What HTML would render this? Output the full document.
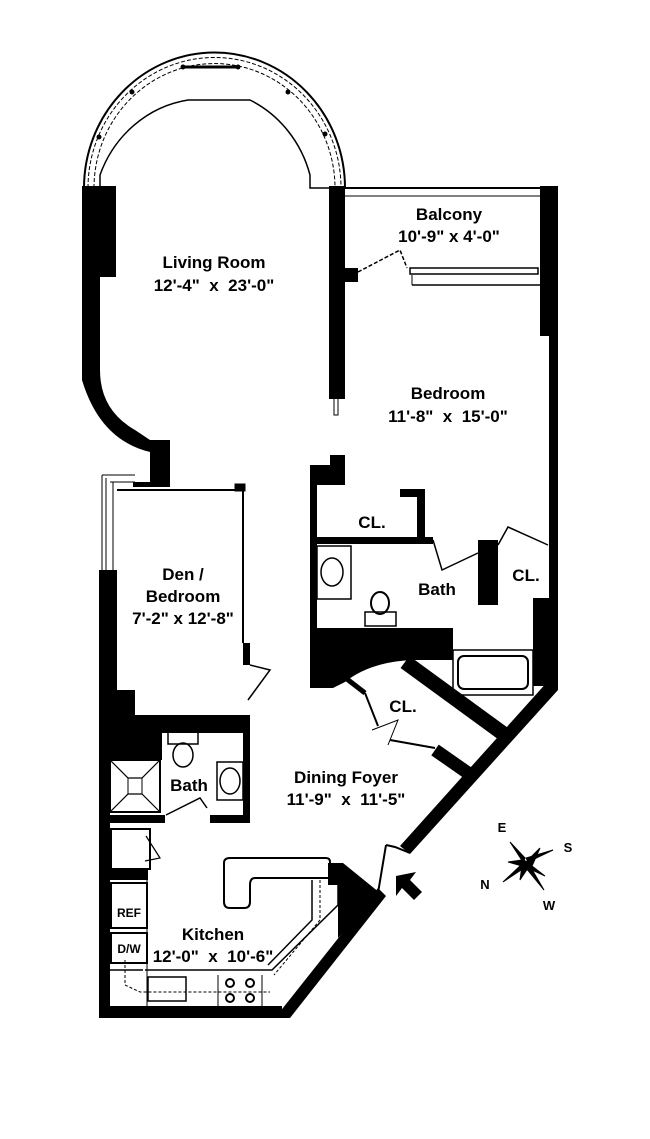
<!DOCTYPE html>
<html><head><style>
html,body{margin:0;padding:0;background:#fff;}
svg{display:block;}
text{font-family:"Liberation Sans",Arial,sans-serif;font-weight:bold;fill:#000;text-anchor:middle;white-space:pre;}
</style></head><body>
<svg width="650" height="1139" viewBox="0 0 650 1139" xmlns="http://www.w3.org/2000/svg">
<g fill="none" stroke="#000">
<path d="M84,188 A130,135 0 0 1 345,188" stroke-width="2"/>
<path d="M88,188 A126,130 0 0 1 341,188" stroke-width="1" stroke-dasharray="4,2"/>
<path d="M94,188 A120,124 0 0 1 335,188" stroke-width="1" stroke-dasharray="4,2"/>
<path d="M100,188 L100,175 A112,118 0 0 1 188,100 L250,100 A112,118 0 0 1 310,175 L310,188 L330,188" stroke-width="1.5"/>
<line x1="182" y1="67" x2="238" y2="67" stroke-width="3"/>
</g>
<g fill="#000">
<circle cx="183" cy="67" r="2.5"/><circle cx="238" cy="67" r="2.5"/>
<circle cx="132" cy="92" r="2.5"/><circle cx="288" cy="92" r="2.5"/>
<circle cx="99" cy="137" r="2.5"/><circle cx="325" cy="134" r="2.5"/>
</g>
<g fill="#000">
<rect x="82" y="186" width="34" height="91"/>
<path d="M82,277 L100,277 L100,370 Q100,410 135,430 L150,440 L170,440 L170,487 L133,487 L133,482 L150,482 L150,452 Q100,440 82,380 Z"/>
<rect x="329" y="186" width="16" height="213"/>
<rect x="345" y="268" width="13" height="14"/>
<rect x="540" y="186" width="18" height="150"/>
<rect x="549" y="186" width="9" height="500"/>
<rect x="533" y="598" width="20" height="88"/>
<polygon points="549,680 558,680 558,690 410,854 400,846"/>
<polygon points="378,888 386,896 290,1018 275,1018"/>
<polygon points="328,863 343,863 380,893 338,938 338,885 328,885"/>
<rect x="99" y="1006" width="183" height="12"/>
<rect x="99" y="570" width="18" height="163"/>
<rect x="99" y="733" width="11" height="285"/>
<rect x="99" y="690" width="36" height="43"/>
<rect x="99" y="715" width="151" height="18"/>
<rect x="243" y="643" width="7" height="22"/>
<rect x="243" y="715" width="7" height="105"/>
<rect x="110" y="733" width="52" height="27"/>
<rect x="99" y="815" width="66" height="8"/>
<rect x="210" y="815" width="40" height="8"/>
<rect x="110" y="870" width="38" height="10"/>
<rect x="330" y="455" width="15" height="15"/>
<rect x="310" y="465" width="35" height="20"/>
<rect x="310" y="465" width="7" height="223"/>
<rect x="400" y="489" width="25" height="8"/>
<rect x="417" y="489" width="8" height="51"/>
<rect x="310" y="537" width="123" height="7"/>
<rect x="478" y="540" width="20" height="65"/>
<path d="M310,628 L453,628 L453,660 L412,660 Q370,662 345,682 L333,688 L310,688 Z"/>
<rect x="320" y="628" width="13" height="60"/>
</g>
<g stroke="#000" fill="none">
<line x1="405" y1="662" x2="505" y2="735" stroke-width="15"/>
<line x1="435" y1="750" x2="468" y2="773" stroke-width="13"/>
<line x1="453" y1="695" x2="500" y2="733" stroke-width="2"/>
<line x1="343" y1="676" x2="365" y2="693" stroke-width="5"/>
<line x1="365" y1="693" x2="378" y2="726" stroke-width="2"/>
<line x1="390" y1="740" x2="435" y2="748" stroke-width="2"/>
<path d="M372,730 L398,720 L388,745" stroke-width="1"/>
<line x1="345" y1="188" x2="540" y2="188" stroke-width="2"/>
<line x1="345" y1="196" x2="540" y2="196" stroke-width="1"/>
<rect x="410" y="268" width="128" height="6" stroke-width="1.5"/>
<line x1="412" y1="275" x2="412" y2="285" stroke-width="1"/>
<line x1="412" y1="285" x2="540" y2="285" stroke-width="1.5"/>
<path d="M358,272 L400,250 L407,268" stroke-width="1.5" stroke-dasharray="4,2"/>
<rect x="334" y="355" width="4" height="60" stroke-width="1"/>
<path d="M102,475 L102,570 M106,478 L106,570 M102,475 L135,475 M110,482 L135,482 M113,482 L113,570" stroke-width="1"/>
<line x1="117" y1="490" x2="240" y2="490" stroke-width="2"/>
<line x1="243" y1="490" x2="243" y2="643" stroke-width="2"/>
<rect x="235" y="484" width="10" height="7" fill="#000"/>
<path d="M250,665 L270,670 L248,700" stroke-width="1.5"/>
<rect x="110" y="760" width="50" height="52" stroke-width="2"/>
<path d="M110,760 L128,778 L142,778 L160,760 M110,812 L128,794 L142,794 L160,812" stroke-width="1.2"/>
<rect x="128" y="778" width="14" height="16" stroke-width="1"/>
<rect x="168" y="732" width="30" height="12" stroke-width="1.5"/>
<ellipse cx="183" cy="755" rx="10" ry="12" stroke-width="1.5"/>
<rect x="217" y="762" width="26" height="38" stroke-width="1.5"/>
<ellipse cx="230" cy="781" rx="10" ry="13" stroke-width="1.5"/>
<path d="M166,815 L200,798 L207,808" stroke-width="1.5"/>
<rect x="111" y="829" width="39" height="40" stroke-width="2"/>
<path d="M146,836 L160,858 L145,861" stroke-width="1.2"/>
<rect x="111" y="883" width="36" height="45" stroke-width="2"/>
<rect x="111" y="933" width="36" height="30" stroke-width="2"/>
<line x1="147" y1="880" x2="147" y2="1006" stroke-width="1"/>
<path d="M224,863 Q224,858 230,858 L326,858 Q330,858 330,862 L330,878 L255,878 Q250,878 250,885 L250,902 Q250,908 244,908 L230,908 Q224,908 224,902 Z" stroke-width="2"/>
<path d="M110,970 L143,970 M145,970 L272,970 L338,905 L338,885" stroke-width="1.5"/>
<path d="M312,880 L312,920 L268,965" stroke-width="1.5"/>
<path d="M320,880 L320,920 L274,975 M125,960 L125,985 L140,992 L270,992" stroke-width="1" stroke-dasharray="3,2"/>
<rect x="148" y="977" width="38" height="24" stroke-width="1.5"/>
<line x1="218" y1="975" x2="218" y2="1006" stroke-width="1"/>
<line x1="262" y1="975" x2="262" y2="1006" stroke-width="1"/>
<circle cx="230" cy="983" r="4" stroke-width="2"/><circle cx="250" cy="983" r="4" stroke-width="2"/>
<circle cx="230" cy="998" r="4" stroke-width="2"/><circle cx="250" cy="998" r="4" stroke-width="2"/>
<rect x="317" y="546" width="34" height="53" stroke-width="1.5"/>
<ellipse cx="332" cy="572" rx="11" ry="14" stroke-width="1.5"/>
<rect x="365" y="612" width="31" height="14" stroke-width="1.5"/>
<ellipse cx="380" cy="603" rx="9" ry="11" stroke-width="2"/>
<rect x="453" y="650" width="80" height="45" stroke-width="1.5"/>
<rect x="458" y="656" width="70" height="33" rx="6" stroke-width="2"/>
<path d="M433,540 L442,570 L478,553" stroke-width="1.5"/>
<path d="M498,545 L508,527 L548,545" stroke-width="1.5"/>
<path d="M386,845 L378,893 M386,845 L395,847 L410,853" stroke-width="2"/>
</g>
<polygon points="396,876 416,872 410,880 422,892 414,900 402,888 396,896" fill="#000"/>
<g fill="#000" stroke="#000">
<polygon points="510,842 525,858 523,862" stroke-width="1"/>
<polygon points="553,850 528,862 526,858" stroke-width="1"/>
<polygon points="503,882 520,866 524,868" stroke-width="1"/>
<polygon points="544,890 526,868 530,866" stroke-width="1"/>
<polygon points="516,850 526,862 540,848 532,866 545,876 528,868 520,880 522,866 508,862 522,860" stroke-width="1"/>
</g>
<g font-size="17">
<text x="214" y="268">Living Room</text>
<text x="214" y="291">12'-4"  x  23'-0"</text>
<text x="449" y="220">Balcony</text>
<text x="449" y="242">10'-9" x 4'-0"</text>
<text x="448" y="399">Bedroom</text>
<text x="448" y="422">11'-8"  x  15'-0"</text>
<text x="372" y="528">CL.</text>
<text x="437" y="595">Bath</text>
<text x="526" y="581">CL.</text>
<text x="183" y="580">Den /</text>
<text x="183" y="602">Bedroom</text>
<text x="183" y="624">7'-2" x 12'-8"</text>
<text x="403" y="712">CL.</text>
<text x="189" y="791">Bath</text>
<text x="346" y="783">Dining Foyer</text>
<text x="346" y="805">11'-9"  x  11'-5"</text>
<text x="213" y="940">Kitchen</text>
<text x="213" y="962">12'-0"  x  10'-6"</text>
</g>
<g font-size="12">
<text x="129" y="917">REF</text>
<text x="129" y="953">D/W</text>
<text x="502" y="832" font-size="13">E</text>
<text x="568" y="852" font-size="13">S</text>
<text x="485" y="889" font-size="13">N</text>
<text x="549" y="910" font-size="13">W</text>
</g>
</svg>
</body></html>
